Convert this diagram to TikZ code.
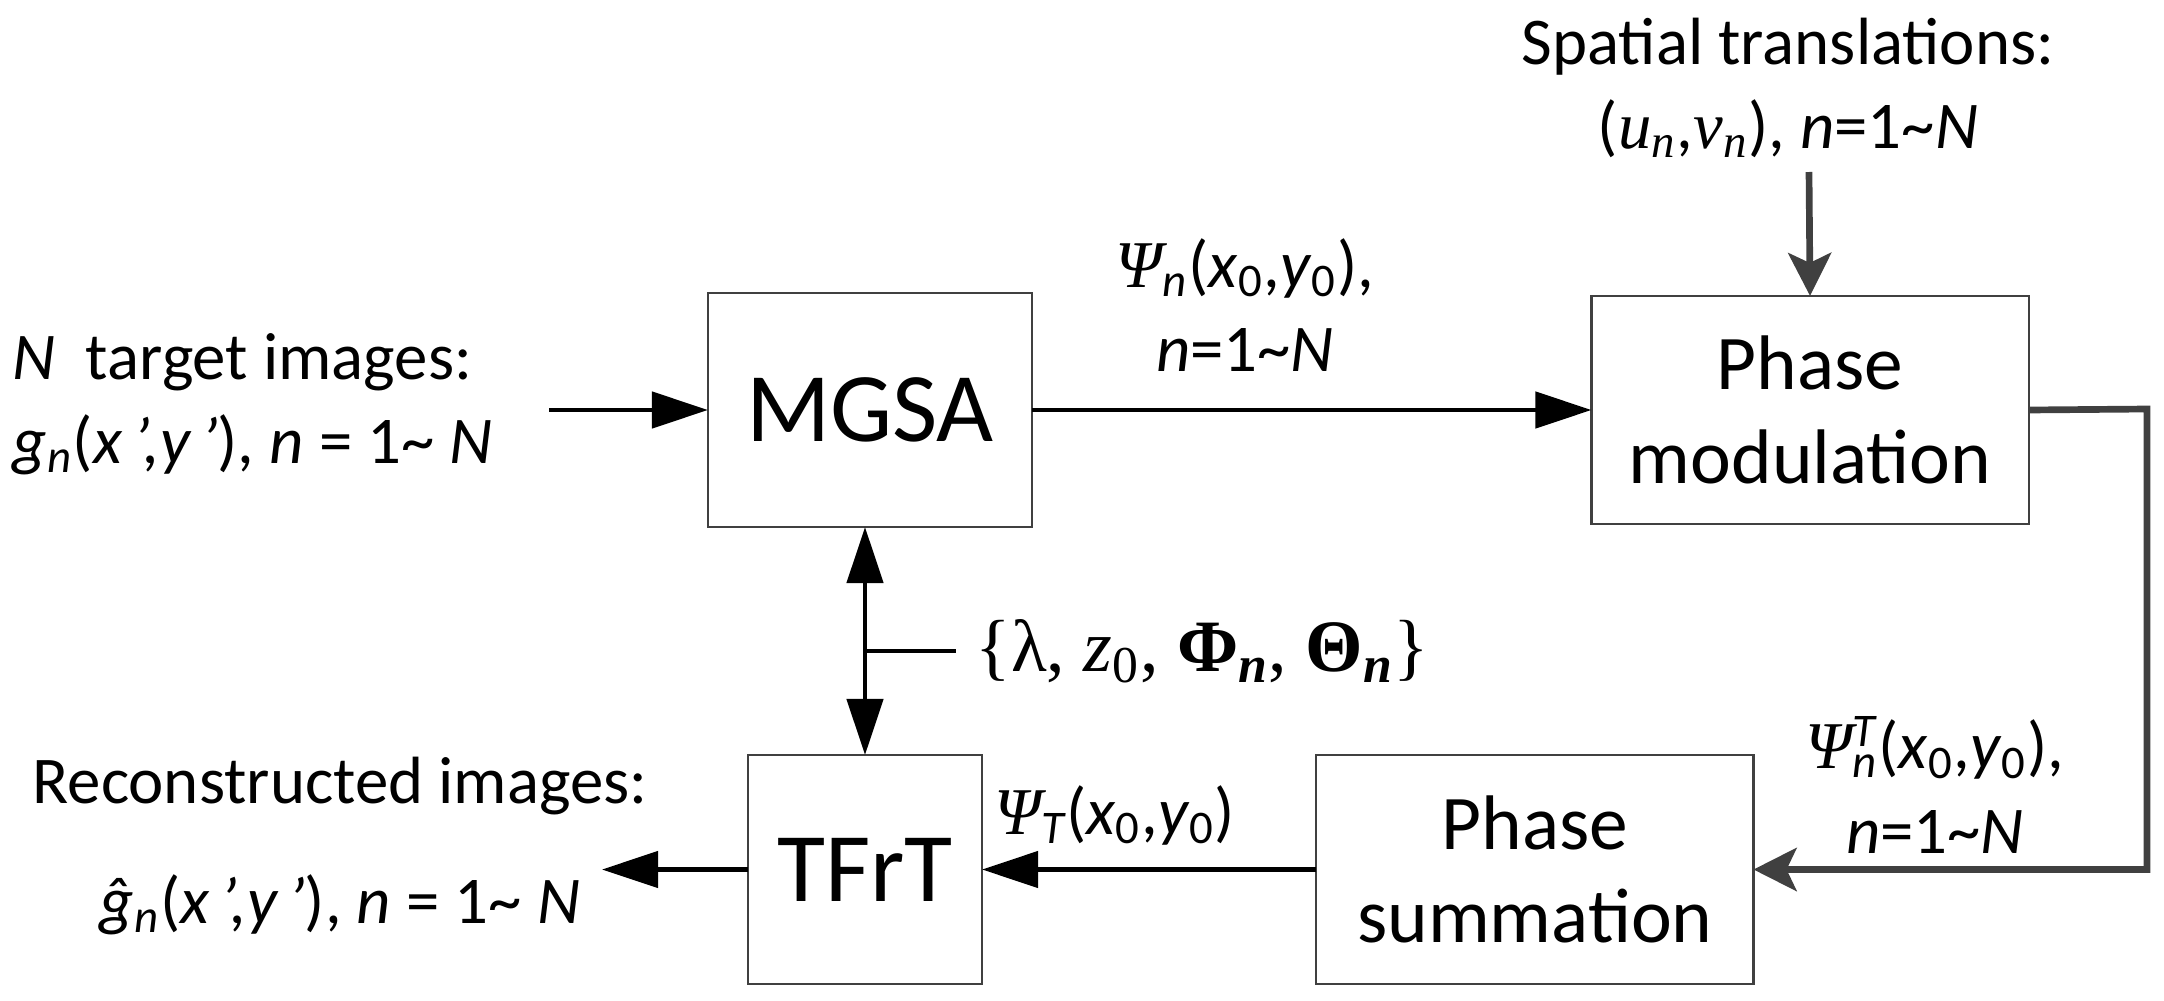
\documentclass[tikz,border=0pt]{standalone}
\usepackage{amsmath}
\usepackage{fontspec}
\setmainfont{Carlito}
\newfontfamily\tms{Liberation Serif}
\usetikzlibrary{arrows.meta,positioning,calc}
\definecolor{boxgray}{HTML}{404040}
\newcommand{\Psiit}{{\tms\itshape Ψ}}
\newcommand{\xyo}{(\textit{x}\textsubscript{0},\textit{y}\textsubscript{0})}
\newcommand{\tl}{\textasciitilde}

\begin{document}
\begin{tikzpicture}[x=0.01cm, y=-0.01cm,
    block/.style={draw=boxgray, line width=0.65pt, inner sep=0pt, outer sep=0pt, align=center},
    big/.style={font=\fontsize{28}{34}\selectfont},
    mid/.style={font=\fontsize{22}{26.5}\selectfont},
    lbl/.style={font=\fontsize{19}{24}\selectfont, inner sep=0pt, align=center},
    blk/.style={line width=1.3pt, -{Triangle[length=5.6mm,width=3.6mm]}},
    gry/.style={draw=boxgray, line width=1.9pt, -{Stealth[length=4.3mm,width=4.3mm,inset=1mm]}}]
    \useasboundingbox (0,0) rectangle (2164,1000);
    % blocks
    \node[block, big, minimum width=3.24cm, minimum height=2.34cm] (mgsa) at (870,410) {MGSA};
    \node[block, big, minimum width=2.34cm, minimum height=2.29cm] (tfrt) at (865,869.5) {TFrT};
    \node[block, mid, minimum width=4.37cm, minimum height=2.28cm, right=5.59cm of mgsa] (pmod) {Phase\\modulation};
    \node[block, mid, minimum width=4.37cm, minimum height=2.29cm, right=3.34cm of tfrt] (psum) {Phase\\summation};
    % labels
    \node[lbl, anchor=west, align=left] (inlbl) at (12,404) {\textit{N}\ \ target images:\\\textit{g}\textsubscript{\itshape n}(\textit{x\,’,y\,’}), \textit{n} = 1\tl\ \textit{N}};
    \node[lbl] (outlbl) at (340,846) {Reconstructed images:\\[10pt]\textit{\^g}\textsubscript{\itshape n}(\textit{x\,’,y\,’}), \textit{n} = 1\tl\ \textit{N}};
    \node[lbl] (splbl) at (1788,88) {Spatial translations:\\({\tms\itshape u}\textsubscript{\tms\itshape n},{\tms\itshape v}\textsubscript{\tms\itshape n}), \textit{n}=1\tl\textit{N}};
    \node[lbl] (psinlbl) at (1245,305) {\Psiit\textsubscript{\itshape n}\xyo,\\\textit{n}=1\tl\textit{N}};
    \node[lbl] (psiTnlbl) at (1935,785) {\Psiit\rlap{\textsuperscript{\itshape T}}\textsubscript{\itshape n}\xyo,\\\textit{n}=1\tl\textit{N}};
    \node[lbl] (psiTlbl) at (1115,815) {\Psiit\textsubscript{\itshape T}\xyo};
    \node[lbl, anchor=west, font=\tms\fontsize{21}{25}\selectfont] (params) at (975,651) {\{λ, \textit{z}\textsubscript{0}, \textbf{Φ}\textsubscript{\textbf{\textit{n}}}, \textbf{Θ}\textsubscript{\textbf{\textit{n}}}\}};
    % connectors
    \coordinate (inp) at (549,410);
    \coordinate (sp) at (1809,172);
    \coordinate (fb) at (2147,409);
    \coordinate (outp) at (602,869.5);
    \draw[blk] (inp) -- (mgsa.west);
    \draw[blk] (mgsa.east) -- (pmod.west);
    \draw[gry] (sp) -- (pmod.north);
    \draw[gry] (pmod.east) -- (fb) |- (psum.east);
    \draw[blk] (psum.west) -- (tfrt.east);
    \draw[blk] (tfrt.west) -- (outp);
    \draw[blk, {Triangle[length=5.6mm,width=3.6mm]}-{Triangle[length=5.6mm,width=3.6mm]}] (tfrt.north |- mgsa.south) -- (tfrt.north);
    \draw[line width=1.3pt] (params.west -| tfrt.north) -- ([xshift=-0.19cm]params.west);
\end{tikzpicture}
\end{document}
